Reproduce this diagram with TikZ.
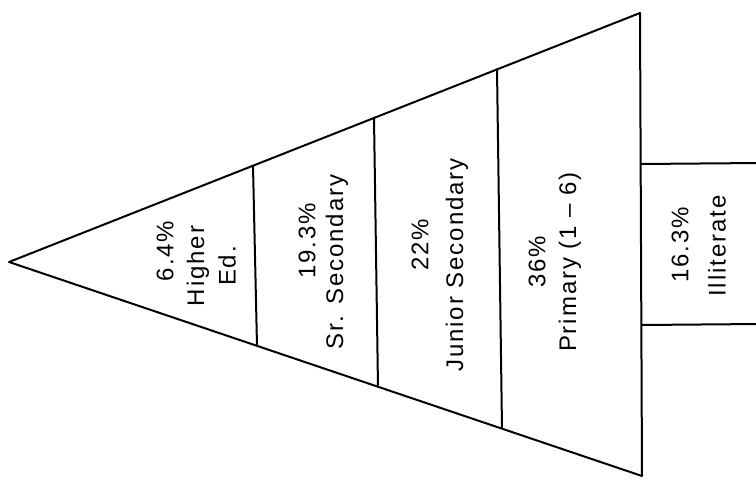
\documentclass[tikz,border=0pt]{standalone}
\usepackage{fontspec}
\setmainfont{Liberation Sans}[LetterSpace=8]
\begin{document}
\begin{tikzpicture}[x=1pt,y=-1pt,
  edge/.style={line width=2pt, line join=round, line cap=round},
  lbl/.style={rotate=90, inner sep=0pt, font=\fontsize{24}{28}\selectfont}]
\useasboundingbox (0,0) rectangle (756,484);
\coordinate (apex) at (9,262);
\coordinate (tr) at (640,13);
\coordinate (br) at (642,476);
\coordinate (t1) at (253,166);
\coordinate (b1) at (257,346);
\coordinate (t2) at (374,118);
\coordinate (b2) at (378,387);
\coordinate (t3) at (497,69);
\coordinate (b3) at (502,428);
\coordinate (rt) at (641,164);
\coordinate (rb) at (642,325);
\coordinate (rte) at (760,163);
\coordinate (rbe) at (760,324);
\draw[edge] (apex) -- (tr) -- (br) -- cycle;
\draw[edge] (t1) -- (b1);
\draw[edge] (t2) -- (b2);
\draw[edge] (t3) -- (b3);
\draw[edge] (rt) -- (rte);
\draw[edge] (rb) -- (rbe);
\node[lbl] (l1a) at (165,251) {6.4\%};
\node[lbl] (l1b) at (198,266) {Higher};
\node[lbl] (l1c) at (227,266) {Ed.};
\node[lbl] (l2a) at (307,241) {19.3\%};
\node[lbl] (l2b) at (337,262) {Sr. Secondary};
\node[lbl] (l3a) at (420,245) {22\%};
\node[lbl] (l3b) at (457,265) {Junior Secondary};
\node[lbl] (l4a) at (537,262) {36\%};
\node[lbl] (l4b) at (570,262) {Primary (1 -- 6)};
\node[lbl] (l5a) at (680,245) {16.3\%};
\node[lbl] (l5b) at (717,246) {Illiterate};
\end{tikzpicture}
\end{document}
